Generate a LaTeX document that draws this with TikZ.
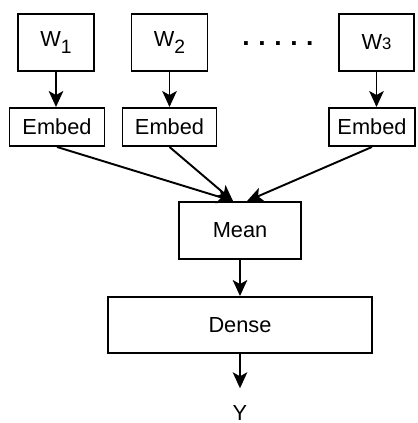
\documentclass[tikz,border=0pt]{standalone}
\usepackage{fontspec}
\setmainfont{Liberation Sans}
\usetikzlibrary{arrows.meta, positioning, calc}

\tikzset{
    block/.style={draw, line width=1.1pt, fill=white, inner sep=0pt, font=\fontsize{12.4}{15}\selectfont},
    flow/.style={-{Stealth[length=0.32cm, width=0.29cm, inset=0.08cm]}, line width=1.1pt}
}

\begin{document}
\begin{tikzpicture}[x=0.02cm, y=-0.02cm]
    \useasboundingbox (0,0) rectangle (417,423);

    % inputs
    \node (w1) [block, minimum width=1.52cm, minimum height=1.14cm] at (56,42.5) {W\raisebox{-0.3em}{\fontsize{11}{11}\selectfont 1}};
    \node (w2) [block, minimum width=1.52cm, minimum height=1.14cm] at (169.5,42.5) {W\raisebox{-0.3em}{\fontsize{11}{11}\selectfont 2}};
    \node (w3) [block, minimum width=1.5cm, minimum height=1.14cm] at (376.5,42.5) {W{\fontsize{9.5}{9.5}\selectfont 3}};
    \node (dots) [anchor=base, font=\fontsize{15}{15}\selectfont\bfseries] at (278,45) {.\hspace{4.9pt}.\hspace{4.9pt}.\hspace{4.9pt}.\hspace{4.9pt}.};

    % embeddings
    \node (e1) [block, minimum width=1.9cm, minimum height=0.76cm] at (57,127) {Embed};
    \node (e2) [block, minimum width=1.88cm, minimum height=0.76cm] at (169.5,127) {Embed};
    \node (e3) [block, minimum width=1.72cm, minimum height=0.76cm] at (372,127) {Embed};

    \node (mean) [block, minimum width=2.44cm, minimum height=1.14cm] at (240,230.5) {Mean};
    \node (dense) [block, minimum width=5.28cm, minimum height=1.12cm] at (240,325) {Dense};
    \node (y) [font=\fontsize{12.4}{15}\selectfont] at (240,413) {Y};

    \coordinate (mleft) at ($(mean.north)+(-7,0)$);
    \coordinate (mright) at ($(mean.north)+(7,0)$);
    \coordinate (yin) at ($(y.north)+(0,-11)$);

    \draw[flow] (w1) -- (e1.north -| w1.south);
    \draw[flow] (w2) -- (e2.north -| w2.south);
    \draw[flow] (w3) -- (e3.north -| w3.south);
    \draw[flow] (e1.south) -- (mleft);
    \draw[flow] (e2.south) -- (mleft);
    \draw[flow] (e3.south) -- (mright);
    \draw[flow] (mean) -- (dense);
    \draw[flow] (dense) -- (yin);
\end{tikzpicture}
\end{document}
